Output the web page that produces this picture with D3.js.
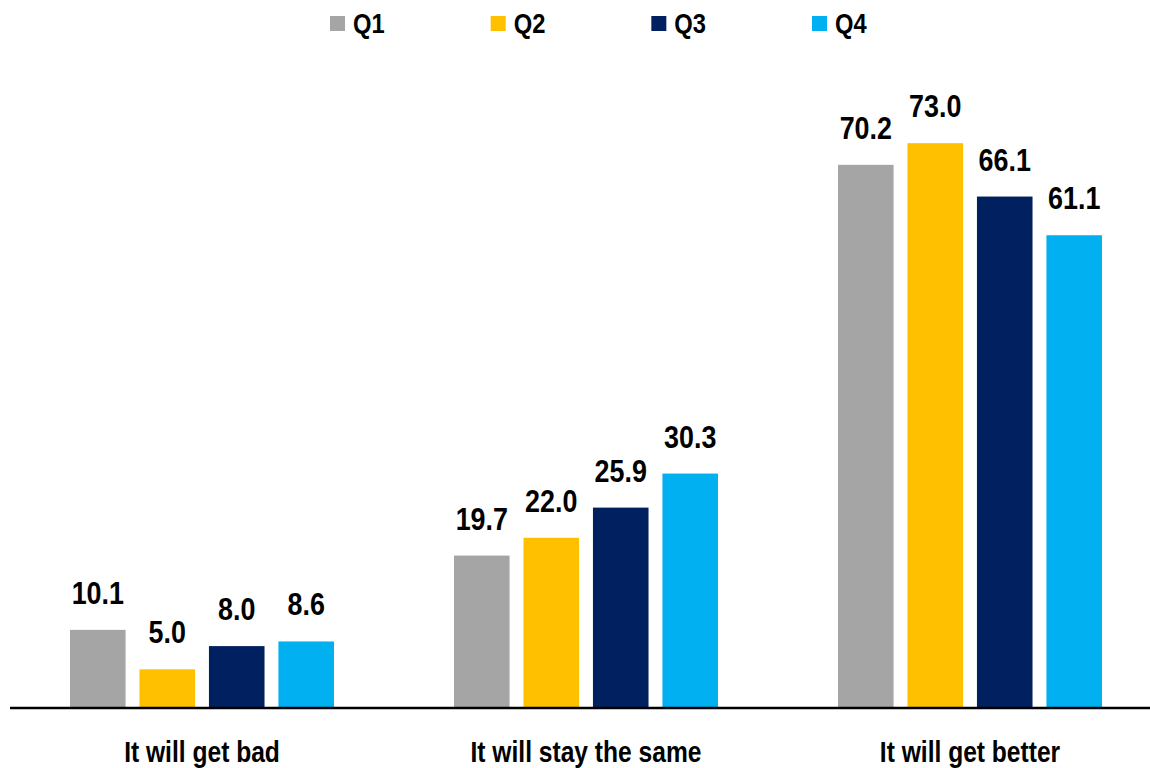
<!DOCTYPE html>
<html>
<head>
<meta charset="utf-8">
<script src="https://cdn.jsdelivr.net/npm/d3@7"></script>
<style>
  html, body { margin: 0; padding: 0; background: #fff; }
  svg { display: block; }
  text { font-family: "Liberation Sans", Arial, sans-serif; font-weight: bold; fill: #000; }
</style>
</head>
<body>
<svg id="chart" width="1150" height="768"></svg>
<script>
// Survey outlook by quarter
const categories = ["It will get bad", "It will stay the same", "It will get better"];
const seriesNames = ["Q1", "Q2", "Q3", "Q4"];
const q1 = [10.1, 19.7, 70.2];
const q2 = [5.0, 22.0, 73.0];
const q3 = [8.0, 25.9, 66.1];
const q4 = [8.6, 30.3, 61.1];
const seriesColors = ["#A5A5A5", "#FFC000", "#002060", "#00B0F0"];

const seriesValues = [q1, q2, q3, q4];

const svg = d3.select("#chart");
const W = 1150, H = 768;
const baseY = 708;

const x0 = d3.scaleBand()
  .domain(categories)
  .range([10, 1162])
  .paddingInner(0.3125)
  .paddingOuter(0.15625);

const x1 = d3.scaleBand()
  .domain(seriesNames)
  .range([0, x0.bandwidth()])
  .paddingInner(0.2)
  .paddingOuter(0);

const y = d3.scaleLinear().domain([0, 80]).range([baseY, 89]);

const groups = svg.append("g").selectAll("g")
  .data(categories)
  .join("g")
  .attr("transform", d => `translate(${x0(d)},0)`);

groups.each(function(cat, ci) {
  const g = d3.select(this);
  const rows = seriesNames.map((s, si) => ({ s, si, v: seriesValues[si][ci] }));
  g.selectAll("rect")
    .data(rows)
    .join("rect")
    .attr("x", d => x1(d.s))
    .attr("y", d => y(d.v))
    .attr("width", x1.bandwidth())
    .attr("height", d => baseY - y(d.v))
    .attr("fill", d => seriesColors[d.si]);

  g.selectAll("text.val")
    .data(rows)
    .join("text")
    .attr("class", "val")
    .attr("text-anchor", "middle")
    .attr("font-size", 32)
    .attr("transform", d => `translate(${x1(d.s) + x1.bandwidth() / 2},${y(d.v) - 26}) scale(0.84,1)`)
    .text(d => d.v.toFixed(1));
});

// baseline axis
const xAxis = d3.axisBottom(x0).tickSize(0).tickPadding(0);
const axisG = svg.append("g").attr("transform", `translate(0,${baseY})`).call(xAxis);
axisG.select(".domain").attr("d", `M10,0H${W}`).attr("stroke", "#000").attr("stroke-width", 2.5);
axisG.selectAll(".tick text")
  .attr("y", 0).attr("dy", 0)
  .attr("font-size", 30)
  .attr("font-family", "'Liberation Sans', Arial, sans-serif")
  .attr("font-weight", "bold")
  .attr("fill", "#000")
  .attr("transform", "translate(0,54) scale(0.82,1)");

// legend
const legendX = d3.scalePoint().domain(seriesNames).range([330, 812]);
const legend = svg.append("g").selectAll("g")
  .data(seriesNames)
  .join("g")
  .attr("transform", d => `translate(${legendX(d)},0)`);
legend.append("rect")
  .attr("x", 0).attr("y", 16).attr("width", 15).attr("height", 15)
  .attr("fill", (d, i) => seriesColors[i]);
legend.append("text")
  .attr("font-size", 27)
  .attr("transform", "translate(23,33) scale(0.88,1)")
  .text(d => d);
</script>
</body>
</html>
